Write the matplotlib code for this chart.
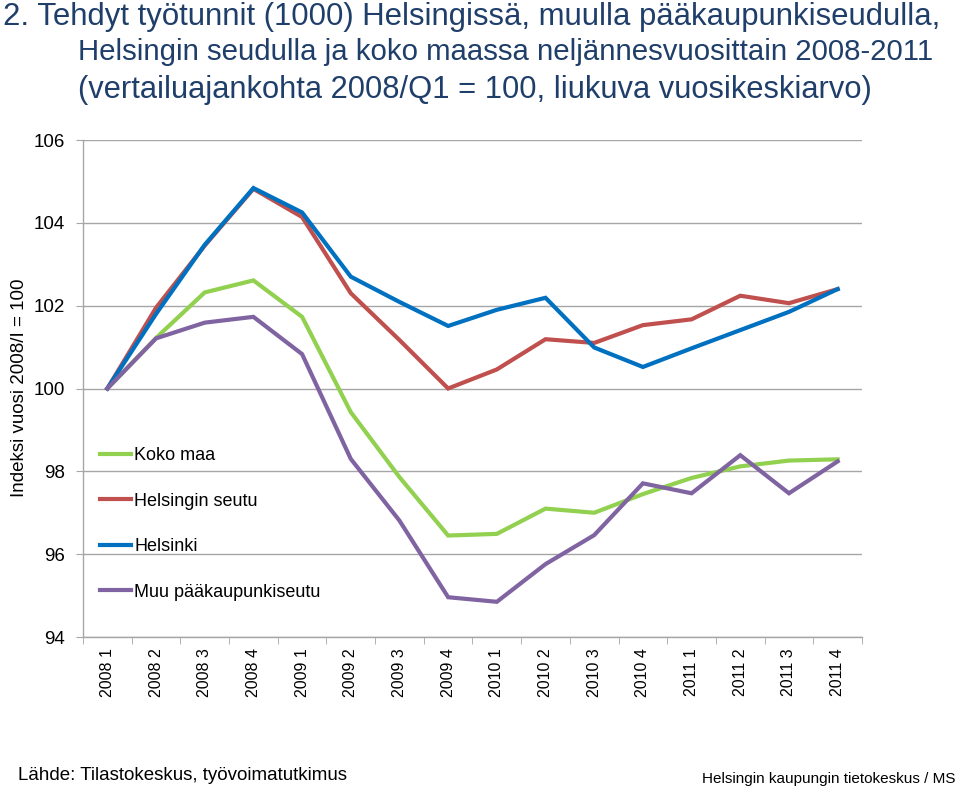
import matplotlib
matplotlib.use("Agg")
import matplotlib.pyplot as plt
import numpy as np

plt.rcParams['font.family'] = ['Liberation Sans', 'DejaVu Sans']

quarters = ["2008 1", "2008 2", "2008 3", "2008 4",
            "2009 1", "2009 2", "2009 3", "2009 4",
            "2010 1", "2010 2", "2010 3", "2010 4",
            "2011 1", "2011 2", "2011 3", "2011 4"]

koko_maa = [100.0, 101.22, 102.32, 102.61, 101.73, 99.43, 97.86, 96.45,
            96.49, 97.10, 97.00, 97.45, 97.84, 98.12, 98.26, 98.29]
helsingin_seutu = [100.0, 101.95, 103.45, 104.82, 104.14, 102.30, 101.17, 100.0,
                   100.46, 101.19, 101.10, 101.53, 101.67, 102.24, 102.06, 102.40]
helsinki = [100.0, 101.80, 103.47, 104.84, 104.25, 102.70, 102.09, 101.51,
            101.90, 102.19, 100.99, 100.52, 100.97, 101.41, 101.85, 102.40]
muu_pks = [100.0, 101.21, 101.59, 101.73, 100.83, 98.30, 96.81, 94.96,
           94.85, 95.76, 96.46, 97.71, 97.47, 98.39, 97.47, 98.24]

series = [
    ("Koko maa", koko_maa, "#92D050"),
    ("Helsingin seutu", helsingin_seutu, "#C0504D"),
    ("Helsinki", helsinki, "#0070C0"),
    ("Muu pääkaupunkiseutu", muu_pks, "#8064A2"),
]

fig = plt.figure(figsize=(9.6, 7.92), dpi=100)
ax = fig.add_axes([83/960, 1-637/792, 779/960, 497/792])

x = np.arange(len(quarters))
for name, vals, col in series:
    ax.plot(x, vals, color=col, lw=3, label=name, solid_joinstyle='miter')

ax.set_xlim(-0.5, len(quarters) - 0.5)
ax.set_ylim(94, 106)
ax.set_yticks(np.arange(94, 107, 2))
ax.set_yticklabels([str(v) for v in range(94, 107, 2)], fontsize=13.5)
ax.yaxis.grid(True, color="#A6A6A6", lw=1)
ax.set_axisbelow(True)

ax.set_xticks(x)
ax.set_xticklabels(quarters, rotation=90, fontsize=11.5)
ax.set_xticks(np.arange(-0.5, len(quarters), 1), minor=True)
ax.tick_params(axis='x', which='major', length=0, pad=8)
ax.tick_params(axis='x', which='minor', length=5, color="#A6A6A6", direction='out')
ax.tick_params(axis='y', length=5, color="#A6A6A6", pad=8)

for s in ['top', 'right']:
    ax.spines[s].set_visible(False)
for s in ['left', 'bottom']:
    ax.spines[s].set_color("#A6A6A6")
    ax.spines[s].set_linewidth(1)

fig.text(20/960, 1-388/792, "Indeksi vuosi 2008/I = 100", fontsize=13.5,
         rotation=90, ha='center', va='center')

leg = ax.legend(loc='upper left', bbox_to_anchor=((100-83)/779, (637-447)/497),
                frameon=False, fontsize=13, handlelength=1.7, handletextpad=0.2,
                labelspacing=1.58, borderpad=0, borderaxespad=0)

title_col = "#1F3F6A"
fig.text(3/960, 1-17/792, "2. Tehdyt työtunnit (1000) Helsingissä, muulla pääkaupunkiseudulla,",
         fontsize=22.4, color=title_col, va='center', ha='left')
fig.text(78/960, 1-52/792, "Helsingin seudulla ja koko maassa neljännesvuosittain 2008-2011",
         fontsize=21.2, color=title_col, va='center', ha='left')
fig.text(78/960, 1-90/792, "(vertailuajankohta 2008/Q1 = 100, liukuva vuosikeskiarvo)",
         fontsize=22.2, color=title_col, va='center', ha='left')

fig.text(18/960, 1-776/792, "Lähde: Tilastokeskus, työvoimatutkimus",
         fontsize=13.5, va='center', ha='left')
fig.text(955/960, 1-779/792, "Helsingin kaupungin tietokeskus / MS",
         fontsize=11, va='center', ha='right')

fig.savefig("out.png", dpi=100)
